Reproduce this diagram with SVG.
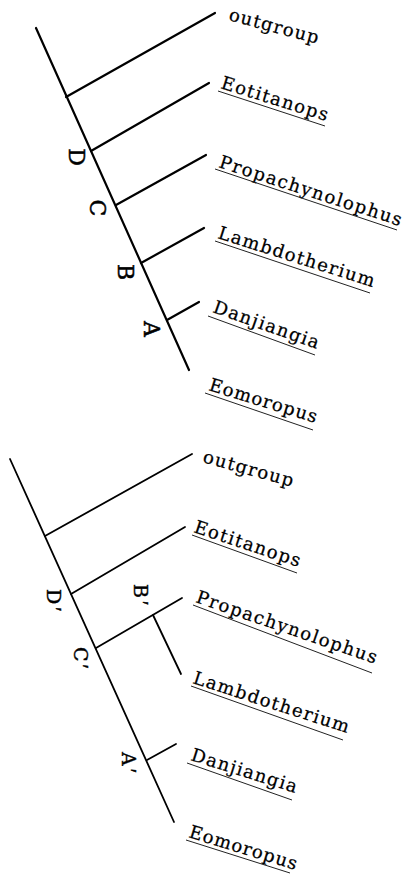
<svg xmlns="http://www.w3.org/2000/svg" width="404" height="875" viewBox="0 0 404 875">
<style>
.bg{fill:#fff}
.stem{stroke:#000;stroke-width:2.2;fill:none;stroke-linecap:round}
.stem2{stroke:#000;stroke-width:1.8;fill:none;stroke-linecap:round}
.ul{stroke:#222;stroke-width:1;fill:none}
.lab{font-family:"DejaVu Serif","Liberation Serif",serif;font-size:18px;fill:#000;stroke:#000;stroke-width:0.25}
.let{font-family:"DejaVu Serif","Liberation Serif",serif;font-size:22px;fill:#000;stroke:#000;stroke-width:0.5;text-anchor:middle}
.let2{font-family:"DejaVu Serif","Liberation Serif",serif;font-size:19px;fill:#000;stroke:#000;stroke-width:0.4}
.pr{font-family:"Liberation Serif",serif;font-size:20px}
</style>
<rect class="bg" x="0" y="0" width="404" height="875"/>
<g id="connectors">
  <g id="tree1">
    <line class="stem" x1="36" y1="28" x2="189" y2="370"/>
    <line class="stem" x1="66" y1="97" x2="215" y2="13"/>
    <line class="stem" x1="91" y1="151" x2="209" y2="83"/>
    <line class="stem" x1="116" y1="205" x2="206" y2="155"/>
    <line class="stem" x1="141" y1="263" x2="204" y2="228"/>
    <line class="stem" x1="167" y1="320" x2="199" y2="302"/>
  </g>
  <g id="tree2">
    <line class="stem2" x1="10" y1="459" x2="174" y2="822"/>
    <line class="stem2" x1="45" y1="536" x2="192" y2="454"/>
    <line class="stem2" x1="71" y1="594" x2="185" y2="527"/>
    <line class="stem2" x1="96" y1="648" x2="182" y2="598"/>
    <line class="stem2" x1="153" y1="615" x2="181" y2="674"/>
    <line class="stem2" x1="147" y1="760" x2="176" y2="744"/>
  </g>
</g>
<g id="nodes1">
  <g id="t-outgroup"><text class="lab" transform="translate(228,20) rotate(15)" textLength="92" lengthAdjust="spacing">outgroup</text></g>
  <g id="t-eotitanops"><text class="lab" transform="translate(220,88) rotate(17.3)" textLength="111" lengthAdjust="spacing">Eotitanops</text><line class="ul" x1="218" y1="91" x2="325" y2="126"/></g>
  <g id="t-propachynolophus"><text class="lab" transform="translate(218,167) rotate(18)" textLength="191" lengthAdjust="spacing">Propachynolophus</text><line class="ul" x1="215" y1="169" x2="397" y2="230"/></g>
  <g id="t-lambdotherium"><text class="lab" transform="translate(217,238) rotate(17.5)" textLength="163" lengthAdjust="spacing">Lambdotherium</text><line class="ul" x1="215" y1="241" x2="370" y2="293"/></g>
  <g id="t-danjiangia"><text class="lab" transform="translate(212,312) rotate(19.4)" textLength="111" lengthAdjust="spacing">Danjiangia</text><line class="ul" x1="208" y1="316" x2="315" y2="355"/></g>
  <g id="t-eomoropus"><text class="lab" transform="translate(208,390) rotate(17.1)" textLength="112" lengthAdjust="spacing">Eomoropus</text><line class="ul" x1="205" y1="393" x2="313" y2="430"/></g>
  <g id="n-D"><text class="let" transform="translate(69,157) rotate(90)">D</text></g>
  <g id="n-C"><text class="let" transform="translate(90,208) rotate(90)">C</text></g>
  <g id="n-B"><text class="let" transform="translate(118,272) rotate(90)">B</text></g>
  <g id="n-A"><text class="let" transform="translate(144,329) rotate(90)">A</text></g>
</g>
<g id="nodes2">
  <g id="b-outgroup"><text class="lab" transform="translate(202,462) rotate(15.5)" textLength="93" lengthAdjust="spacing">outgroup</text></g>
  <g id="b-eotitanops"><text class="lab" transform="translate(193,532) rotate(18.4)" textLength="111" lengthAdjust="spacing">Eotitanops</text><line class="ul" x1="192" y1="535" x2="297" y2="573"/></g>
  <g id="b-propachynolophus"><text class="lab" transform="translate(195,602) rotate(19)" textLength="190" lengthAdjust="spacing">Propachynolophus</text><line class="ul" x1="193" y1="605" x2="372" y2="673"/></g>
  <g id="b-lambdotherium"><text class="lab" transform="translate(192,683) rotate(17.9)" textLength="163" lengthAdjust="spacing">Lambdotherium</text><line class="ul" x1="191" y1="686" x2="343" y2="740"/></g>
  <g id="b-danjiangia"><text class="lab" transform="translate(190,760) rotate(17.4)" textLength="110" lengthAdjust="spacing">Danjiangia</text><line class="ul" x1="187" y1="763" x2="292" y2="800"/></g>
  <g id="b-eomoropus"><text class="lab" transform="translate(188,837) rotate(17.1)" textLength="112" lengthAdjust="spacing">Eomoropus</text><line class="ul" x1="186" y1="840" x2="290" y2="873"/></g>
  <g id="n-Dp"><text class="let2" transform="translate(47,589) rotate(90)">D<tspan class="pr" dx="3">′</tspan></text></g>
  <g id="n-Bp"><text class="let2" transform="translate(134,584) rotate(90)">B<tspan class="pr" dx="3">′</tspan></text></g>
  <g id="n-Cp"><text class="let2" transform="translate(74,647) rotate(90)">C<tspan class="pr" dx="3">′</tspan></text></g>
  <g id="n-Ap"><text class="let2" transform="translate(122,752) rotate(90)">A<tspan class="pr" dx="3">′</tspan></text></g>
</g>
</svg>
